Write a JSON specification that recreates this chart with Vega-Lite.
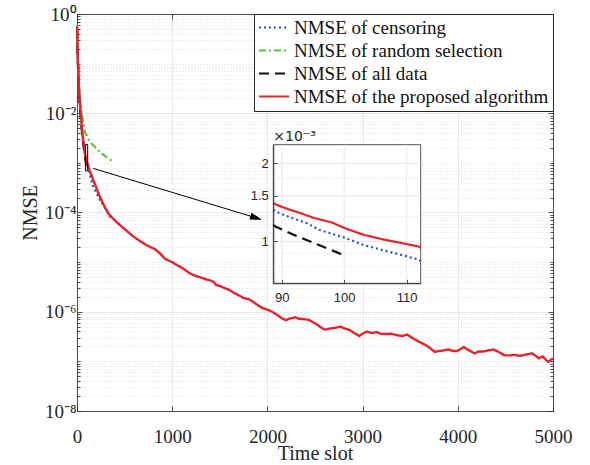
{
  "$schema": "https://vega.github.io/schema/vega-lite/v6.json",
  "width": 476,
  "height": 397,
  "autosize": {"type": "none"},
  "padding": {"left": 77, "top": 14, "right": 37, "bottom": 54},
  "background": "white",
  "config": {
    "view": {"stroke": null},
    "font": "Liberation Serif",
    "axis": {
      "domainColor": "#262626", "tickColor": "#262626", "labelColor": "#262626", "titleColor": "#262626",
      "labelFont": "Liberation Serif", "titleFont": "Liberation Serif", "labelFontSize": 19, "titleFontSize": 20,
      "titleFontWeight": "normal", "labelFlush": false, "labelOverlap": false, "domainWidth": 0.8, "tickWidth": 0.8, "gridWidth": 0.8
    },
    "legend": {
      "orient": "top-right", "offset": 0, "padding": 4, "fillColor": "white", "strokeColor": "#262626",
      "symbolType": "stroke", "symbolSize": 900, "symbolStrokeWidth": 2, "labelFont": "Liberation Serif",
      "labelFontSize": 19, "labelColor": "#111111", "rowPadding": 3, "labelOffset": 4, "labelLimit": 400, "clipHeight": 19
    }
  },
  "datasets": {
    "curves": [
      {"t": 1, "v": 0.56, "series": "NMSE of censoring"},
      {"t": 3, "v": 0.33, "series": "NMSE of censoring"},
      {"t": 6, "v": 0.186, "series": "NMSE of censoring"},
      {"t": 10, "v": 0.102, "series": "NMSE of censoring"},
      {"t": 15, "v": 0.056, "series": "NMSE of censoring"},
      {"t": 20, "v": 0.0325, "series": "NMSE of censoring"},
      {"t": 25, "v": 0.0205, "series": "NMSE of censoring"},
      {"t": 30, "v": 0.0149, "series": "NMSE of censoring"},
      {"t": 35, "v": 0.0116, "series": "NMSE of censoring"},
      {"t": 40, "v": 0.0091, "series": "NMSE of censoring"},
      {"t": 50, "v": 0.0052, "series": "NMSE of censoring"},
      {"t": 60, "v": 0.0033, "series": "NMSE of censoring"},
      {"t": 70, "v": 0.0023, "series": "NMSE of censoring"},
      {"t": 80, "v": 0.00169, "series": "NMSE of censoring"},
      {"t": 88, "v": 0.001325, "series": "NMSE of censoring"},
      {"t": 89, "v": 0.001305, "series": "NMSE of censoring"},
      {"t": 91, "v": 0.001248, "series": "NMSE of censoring"},
      {"t": 94, "v": 0.001177, "series": "NMSE of censoring"},
      {"t": 96, "v": 0.001109, "series": "NMSE of censoring"},
      {"t": 100, "v": 0.001036, "series": "NMSE of censoring"},
      {"t": 103, "v": 0.000971, "series": "NMSE of censoring"},
      {"t": 107, "v": 0.000915, "series": "NMSE of censoring"},
      {"t": 112, "v": 0.000851, "series": "NMSE of censoring"},
      {"t": 113, "v": 0.00084, "series": "NMSE of censoring"},
      {"t": 119, "v": 0.00078, "series": "NMSE of censoring"},
      {"t": 140, "v": 0.000525, "series": "NMSE of censoring"},
      {"t": 171, "v": 0.00033, "series": "NMSE of censoring"},
      {"t": 200, "v": 0.000257, "series": "NMSE of censoring"},
      {"t": 242, "v": 0.000178, "series": "NMSE of censoring"},
      {"t": 280, "v": 0.000138, "series": "NMSE of censoring"},
      {"t": 312, "v": 0.000112, "series": "NMSE of censoring"},
      {"t": 354, "v": 0.000078, "series": "NMSE of censoring"},
      {"t": 1, "v": 0.6, "series": "NMSE of random selection"},
      {"t": 3, "v": 0.35, "series": "NMSE of random selection"},
      {"t": 6, "v": 0.2, "series": "NMSE of random selection"},
      {"t": 10, "v": 0.112, "series": "NMSE of random selection"},
      {"t": 15, "v": 0.063, "series": "NMSE of random selection"},
      {"t": 20, "v": 0.04, "series": "NMSE of random selection"},
      {"t": 25, "v": 0.028, "series": "NMSE of random selection"},
      {"t": 30, "v": 0.021, "series": "NMSE of random selection"},
      {"t": 35, "v": 0.0165, "series": "NMSE of random selection"},
      {"t": 40, "v": 0.0135, "series": "NMSE of random selection"},
      {"t": 49, "v": 0.0103, "series": "NMSE of random selection"},
      {"t": 60, "v": 0.0076, "series": "NMSE of random selection"},
      {"t": 70, "v": 0.006, "series": "NMSE of random selection"},
      {"t": 84, "v": 0.00424, "series": "NMSE of random selection"},
      {"t": 100, "v": 0.00363, "series": "NMSE of random selection"},
      {"t": 115, "v": 0.0031, "series": "NMSE of random selection"},
      {"t": 137, "v": 0.00266, "series": "NMSE of random selection"},
      {"t": 160, "v": 0.00238, "series": "NMSE of random selection"},
      {"t": 190, "v": 0.00209, "series": "NMSE of random selection"},
      {"t": 215, "v": 0.00186, "series": "NMSE of random selection"},
      {"t": 242, "v": 0.00167, "series": "NMSE of random selection"},
      {"t": 270, "v": 0.0015, "series": "NMSE of random selection"},
      {"t": 300, "v": 0.00135, "series": "NMSE of random selection"},
      {"t": 340, "v": 0.00119, "series": "NMSE of random selection"},
      {"t": 381, "v": 0.00105, "series": "NMSE of random selection"},
      {"t": 1, "v": 0.5, "series": "NMSE of all data"},
      {"t": 3, "v": 0.29, "series": "NMSE of all data"},
      {"t": 6, "v": 0.165, "series": "NMSE of all data"},
      {"t": 10, "v": 0.09, "series": "NMSE of all data"},
      {"t": 15, "v": 0.049, "series": "NMSE of all data"},
      {"t": 20, "v": 0.029, "series": "NMSE of all data"},
      {"t": 25, "v": 0.018, "series": "NMSE of all data"},
      {"t": 30, "v": 0.013, "series": "NMSE of all data"},
      {"t": 35, "v": 0.0102, "series": "NMSE of all data"},
      {"t": 40, "v": 0.008, "series": "NMSE of all data"},
      {"t": 50, "v": 0.0046, "series": "NMSE of all data"},
      {"t": 60, "v": 0.0029, "series": "NMSE of all data"},
      {"t": 70, "v": 0.00205, "series": "NMSE of all data"},
      {"t": 80, "v": 0.0015, "series": "NMSE of all data"},
      {"t": 88, "v": 0.00116, "series": "NMSE of all data"},
      {"t": 89, "v": 0.001142, "series": "NMSE of all data"},
      {"t": 92, "v": 0.001059, "series": "NMSE of all data"},
      {"t": 95, "v": 0.00099, "series": "NMSE of all data"},
      {"t": 98, "v": 0.000925, "series": "NMSE of all data"},
      {"t": 100, "v": 0.000884, "series": "NMSE of all data"},
      {"t": 1, "v": 0.55, "series": "NMSE of the proposed algorithm"},
      {"t": 3, "v": 0.35, "series": "NMSE of the proposed algorithm"},
      {"t": 6, "v": 0.2, "series": "NMSE of the proposed algorithm"},
      {"t": 10, "v": 0.11, "series": "NMSE of the proposed algorithm"},
      {"t": 15, "v": 0.06, "series": "NMSE of the proposed algorithm"},
      {"t": 20, "v": 0.035, "series": "NMSE of the proposed algorithm"},
      {"t": 25, "v": 0.022, "series": "NMSE of the proposed algorithm"},
      {"t": 30, "v": 0.016, "series": "NMSE of the proposed algorithm"},
      {"t": 35, "v": 0.0125, "series": "NMSE of the proposed algorithm"},
      {"t": 40, "v": 0.0098, "series": "NMSE of the proposed algorithm"},
      {"t": 50, "v": 0.0056, "series": "NMSE of the proposed algorithm"},
      {"t": 60, "v": 0.00355, "series": "NMSE of the proposed algorithm"},
      {"t": 70, "v": 0.0025, "series": "NMSE of the proposed algorithm"},
      {"t": 80, "v": 0.00182, "series": "NMSE of the proposed algorithm"},
      {"t": 88, "v": 0.00141, "series": "NMSE of the proposed algorithm"},
      {"t": 89, "v": 0.00139, "series": "NMSE of the proposed algorithm"},
      {"t": 91, "v": 0.001333, "series": "NMSE of the proposed algorithm"},
      {"t": 93, "v": 0.001286, "series": "NMSE of the proposed algorithm"},
      {"t": 95, "v": 0.001236, "series": "NMSE of the proposed algorithm"},
      {"t": 98, "v": 0.001184, "series": "NMSE of the proposed algorithm"},
      {"t": 100, "v": 0.001128, "series": "NMSE of the proposed algorithm"},
      {"t": 103, "v": 0.001063, "series": "NMSE of the proposed algorithm"},
      {"t": 106, "v": 0.001021, "series": "NMSE of the proposed algorithm"},
      {"t": 109, "v": 0.000988, "series": "NMSE of the proposed algorithm"},
      {"t": 112, "v": 0.000955, "series": "NMSE of the proposed algorithm"},
      {"t": 113, "v": 0.000945, "series": "NMSE of the proposed algorithm"},
      {"t": 120, "v": 0.00083, "series": "NMSE of the proposed algorithm"},
      {"t": 130, "v": 0.00072, "series": "NMSE of the proposed algorithm"},
      {"t": 150, "v": 0.000575, "series": "NMSE of the proposed algorithm"},
      {"t": 175, "v": 0.000427, "series": "NMSE of the proposed algorithm"},
      {"t": 200, "v": 0.00033, "series": "NMSE of the proposed algorithm"},
      {"t": 224, "v": 0.000243, "series": "NMSE of the proposed algorithm"},
      {"t": 250, "v": 0.00019, "series": "NMSE of the proposed algorithm"},
      {"t": 290, "v": 0.00013, "series": "NMSE of the proposed algorithm"},
      {"t": 329, "v": 0.000096, "series": "NMSE of the proposed algorithm"},
      {"t": 370, "v": 0.000078, "series": "NMSE of the proposed algorithm"},
      {"t": 420, "v": 0.000063, "series": "NMSE of the proposed algorithm"},
      {"t": 480, "v": 0.00005, "series": "NMSE of the proposed algorithm"},
      {"t": 535, "v": 0.0000407, "series": "NMSE of the proposed algorithm"},
      {"t": 590, "v": 0.000033, "series": "NMSE of the proposed algorithm"},
      {"t": 650, "v": 0.0000275, "series": "NMSE of the proposed algorithm"},
      {"t": 730, "v": 0.000022, "series": "NMSE of the proposed algorithm"},
      {"t": 820, "v": 0.0000182, "series": "NMSE of the proposed algorithm"},
      {"t": 880, "v": 0.0000145, "series": "NMSE of the proposed algorithm"},
      {"t": 924, "v": 0.0000117, "series": "NMSE of the proposed algorithm"},
      {"t": 960, "v": 0.0000108, "series": "NMSE of the proposed algorithm"},
      {"t": 1000, "v": 1.0e-5, "series": "NMSE of the proposed algorithm"},
      {"t": 1050, "v": 8.71e-6, "series": "NMSE of the proposed algorithm"},
      {"t": 1100, "v": 7.76e-6, "series": "NMSE of the proposed algorithm"},
      {"t": 1162, "v": 6.38e-6, "series": "NMSE of the proposed algorithm"},
      {"t": 1200, "v": 5.75e-6, "series": "NMSE of the proposed algorithm"},
      {"t": 1250, "v": 5.25e-6, "series": "NMSE of the proposed algorithm"},
      {"t": 1300, "v": 4.9e-6, "series": "NMSE of the proposed algorithm"},
      {"t": 1360, "v": 4.47e-6, "series": "NMSE of the proposed algorithm"},
      {"t": 1400, "v": 4.27e-6, "series": "NMSE of the proposed algorithm"},
      {"t": 1440, "v": 3.98e-6, "series": "NMSE of the proposed algorithm"},
      {"t": 1459, "v": 3.47e-6, "series": "NMSE of the proposed algorithm"},
      {"t": 1500, "v": 3.31e-6, "series": "NMSE of the proposed algorithm"},
      {"t": 1558, "v": 2.95e-6, "series": "NMSE of the proposed algorithm"},
      {"t": 1600, "v": 2.75e-6, "series": "NMSE of the proposed algorithm"},
      {"t": 1650, "v": 2.4e-6, "series": "NMSE of the proposed algorithm"},
      {"t": 1700, "v": 2.14e-6, "series": "NMSE of the proposed algorithm"},
      {"t": 1757, "v": 1.86e-6, "series": "NMSE of the proposed algorithm"},
      {"t": 1800, "v": 1.82e-6, "series": "NMSE of the proposed algorithm"},
      {"t": 1850, "v": 1.58e-6, "series": "NMSE of the proposed algorithm"},
      {"t": 1900, "v": 1.35e-6, "series": "NMSE of the proposed algorithm"},
      {"t": 1955, "v": 1.17e-6, "series": "NMSE of the proposed algorithm"},
      {"t": 2000, "v": 1.1e-6, "series": "NMSE of the proposed algorithm"},
      {"t": 2050, "v": 1.0e-6, "series": "NMSE of the proposed algorithm"},
      {"t": 2100, "v": 8.71e-7, "series": "NMSE of the proposed algorithm"},
      {"t": 2150, "v": 7.41e-7, "series": "NMSE of the proposed algorithm"},
      {"t": 2193, "v": 6.76e-7, "series": "NMSE of the proposed algorithm"},
      {"t": 2230, "v": 7.24e-7, "series": "NMSE of the proposed algorithm"},
      {"t": 2292, "v": 7.76e-7, "series": "NMSE of the proposed algorithm"},
      {"t": 2330, "v": 7.24e-7, "series": "NMSE of the proposed algorithm"},
      {"t": 2380, "v": 7.08e-7, "series": "NMSE of the proposed algorithm"},
      {"t": 2430, "v": 6.92e-7, "series": "NMSE of the proposed algorithm"},
      {"t": 2470, "v": 6.31e-7, "series": "NMSE of the proposed algorithm"},
      {"t": 2530, "v": 5.37e-7, "series": "NMSE of the proposed algorithm"},
      {"t": 2580, "v": 4.57e-7, "series": "NMSE of the proposed algorithm"},
      {"t": 2609, "v": 4.37e-7, "series": "NMSE of the proposed algorithm"},
      {"t": 2650, "v": 4.57e-7, "series": "NMSE of the proposed algorithm"},
      {"t": 2700, "v": 4.68e-7, "series": "NMSE of the proposed algorithm"},
      {"t": 2768, "v": 5.01e-7, "series": "NMSE of the proposed algorithm"},
      {"t": 2800, "v": 4.68e-7, "series": "NMSE of the proposed algorithm"},
      {"t": 2867, "v": 4.27e-7, "series": "NMSE of the proposed algorithm"},
      {"t": 2920, "v": 3.63e-7, "series": "NMSE of the proposed algorithm"},
      {"t": 2966, "v": 3.24e-7, "series": "NMSE of the proposed algorithm"},
      {"t": 3000, "v": 3.63e-7, "series": "NMSE of the proposed algorithm"},
      {"t": 3045, "v": 3.98e-7, "series": "NMSE of the proposed algorithm"},
      {"t": 3100, "v": 3.72e-7, "series": "NMSE of the proposed algorithm"},
      {"t": 3150, "v": 3.89e-7, "series": "NMSE of the proposed algorithm"},
      {"t": 3200, "v": 3.55e-7, "series": "NMSE of the proposed algorithm"},
      {"t": 3263, "v": 3.55e-7, "series": "NMSE of the proposed algorithm"},
      {"t": 3300, "v": 3.63e-7, "series": "NMSE of the proposed algorithm"},
      {"t": 3350, "v": 3.39e-7, "series": "NMSE of the proposed algorithm"},
      {"t": 3420, "v": 3.24e-7, "series": "NMSE of the proposed algorithm"},
      {"t": 3470, "v": 3.47e-7, "series": "NMSE of the proposed algorithm"},
      {"t": 3500, "v": 3.16e-7, "series": "NMSE of the proposed algorithm"},
      {"t": 3550, "v": 2.75e-7, "series": "NMSE of the proposed algorithm"},
      {"t": 3600, "v": 2.45e-7, "series": "NMSE of the proposed algorithm"},
      {"t": 3660, "v": 2.14e-7, "series": "NMSE of the proposed algorithm"},
      {"t": 3700, "v": 1.91e-7, "series": "NMSE of the proposed algorithm"},
      {"t": 3759, "v": 1.55e-7, "series": "NMSE of the proposed algorithm"},
      {"t": 3800, "v": 1.62e-7, "series": "NMSE of the proposed algorithm"},
      {"t": 3850, "v": 1.66e-7, "series": "NMSE of the proposed algorithm"},
      {"t": 3898, "v": 1.74e-7, "series": "NMSE of the proposed algorithm"},
      {"t": 3950, "v": 1.62e-7, "series": "NMSE of the proposed algorithm"},
      {"t": 3997, "v": 1.62e-7, "series": "NMSE of the proposed algorithm"},
      {"t": 4064, "v": 1.95e-7, "series": "NMSE of the proposed algorithm"},
      {"t": 4100, "v": 1.74e-7, "series": "NMSE of the proposed algorithm"},
      {"t": 4175, "v": 1.45e-7, "series": "NMSE of the proposed algorithm"},
      {"t": 4220, "v": 1.58e-7, "series": "NMSE of the proposed algorithm"},
      {"t": 4270, "v": 1.58e-7, "series": "NMSE of the proposed algorithm"},
      {"t": 4320, "v": 1.66e-7, "series": "NMSE of the proposed algorithm"},
      {"t": 4374, "v": 1.74e-7, "series": "NMSE of the proposed algorithm"},
      {"t": 4420, "v": 1.58e-7, "series": "NMSE of the proposed algorithm"},
      {"t": 4493, "v": 1.32e-7, "series": "NMSE of the proposed algorithm"},
      {"t": 4550, "v": 1.32e-7, "series": "NMSE of the proposed algorithm"},
      {"t": 4600, "v": 1.35e-7, "series": "NMSE of the proposed algorithm"},
      {"t": 4650, "v": 1.29e-7, "series": "NMSE of the proposed algorithm"},
      {"t": 4700, "v": 1.35e-7, "series": "NMSE of the proposed algorithm"},
      {"t": 4778, "v": 1.45e-7, "series": "NMSE of the proposed algorithm"},
      {"t": 4820, "v": 1.29e-7, "series": "NMSE of the proposed algorithm"},
      {"t": 4850, "v": 1.15e-7, "series": "NMSE of the proposed algorithm"},
      {"t": 4890, "v": 1.26e-7, "series": "NMSE of the proposed algorithm"},
      {"t": 4949, "v": 9.77e-8, "series": "NMSE of the proposed algorithm"},
      {"t": 5000, "v": 1.15e-7, "series": "NMSE of the proposed algorithm"}
    ],
    "insetVgrid": [{"g": 90}, {"g": 100}, {"g": 110}],
    "insetHgrid": [{"g": 0.001}, {"g": 0.0015}, {"g": 0.002}],
    "insetMinor": [{"g": 0.0008}, {"g": 0.0009}, {"g": 0.00125}, {"g": 0.00175}]
  },
  "layer": [
    {
      "layer": [
        {
          "data": {"name": "curves"},
          "transform": [{"filter": "datum.series != 'NMSE of the proposed algorithm'"}],
          "mark": {"type": "line", "strokeWidth": 2.2},
          "encoding": {
            "x": {"field": "t", "type": "quantitative", "scale": {"domain": [0, 5000], "nice": false},
              "axis": {"orient": "bottom", "title": "Time slot", "values": [0, 1000, 2000, 3000, 4000, 5000], "format": "d",
                "grid": true, "gridColor": "#e3e3e3", "tickSize": -5, "labelPadding": 21, "titlePadding": -3}},
            "y": {"field": "v", "type": "quantitative", "scale": {"type": "log", "domain": [1e-8, 1], "nice": false},
              "axis": {"orient": "left", "title": "NMSE", "titlePadding": 4, "labelPadding": 6,
                "values": [1e-8,2e-8,3e-8,4e-8,5e-8,6e-8,7e-8,8e-8,9e-8,1e-7,2e-7,3e-7,4e-7,5e-7,6e-7,7e-7,8e-7,9e-7,1e-6,2e-6,3e-6,4e-6,5e-6,6e-6,7e-6,8e-6,9e-6,1e-5,2e-5,3e-5,4e-5,5e-5,6e-5,7e-5,8e-5,9e-5,1e-4,2e-4,3e-4,4e-4,5e-4,6e-4,7e-4,8e-4,9e-4,1e-3,2e-3,3e-3,4e-3,5e-3,6e-3,7e-3,8e-3,9e-3,1e-2,2e-2,3e-2,4e-2,5e-2,6e-2,7e-2,8e-2,9e-2,1e-1,2e-1,3e-1,4e-1,5e-1,6e-1,7e-1,8e-1,9e-1,1],
                "labelExpr": "abs(log(datum.value)/LN10 - round(log(datum.value)/LN10)) < 0.000001 && round(log(datum.value)/LN10) % 2 == 0 ? '10' + ['⁰','⁻²','⁻⁴','⁻⁶','⁻⁸'][-round(log(datum.value)/LN10)/2] : ''",
                "grid": true,
                "gridDash": {"condition": {"test": "abs(log(datum.value)/LN10 - round(log(datum.value)/LN10)) < 0.000001 && round(log(datum.value)/LN10) % 2 == 0", "value": []}, "value": [1, 2]},
                "gridColor": {"condition": {"test": "abs(log(datum.value)/LN10 - round(log(datum.value)/LN10)) < 0.000001 && round(log(datum.value)/LN10) % 2 == 0", "value": "#e3e3e3"}, "value": "#d6d6d6"},
                "tickSize": {"condition": {"test": "abs(log(datum.value)/LN10 - round(log(datum.value)/LN10)) < 0.000001 && round(log(datum.value)/LN10) % 2 == 0", "value": -5}, "value": -3}}},
            "color": {"field": "series", "type": "nominal",
              "scale": {"domain": ["NMSE of censoring", "NMSE of random selection", "NMSE of all data", "NMSE of the proposed algorithm"],
                "range": ["#2f4fbf", "#62bf3a", "#111111", "#e8222b"]},
              "legend": {"title": null}},
            "strokeDash": {"field": "series", "type": "nominal",
              "scale": {"domain": ["NMSE of censoring", "NMSE of random selection", "NMSE of all data", "NMSE of the proposed algorithm"],
                "range": [[2, 3], [7, 3, 2, 3], [10, 6], [1, 0]]},
              "legend": {"title": null}}
          }
        },
        {
          "data": {"name": "curves"},
          "transform": [{"filter": "datum.series == 'NMSE of the proposed algorithm'"}],
          "mark": {"type": "line", "strokeWidth": 2.4},
          "encoding": {
            "x": {"field": "t", "type": "quantitative"},
            "y": {"field": "v", "type": "quantitative"},
            "color": {"field": "series", "type": "nominal"},
            "strokeDash": {"field": "series", "type": "nominal"}
          }
        },
        {
          "data": {"values": [{}]},
          "mark": {"type": "rect", "fillOpacity": 0, "stroke": "black", "strokeWidth": 1},
          "encoding": {
            "x": {"datum": 88.66}, "x2": {"datum": 112.24},
            "y": {"datum": 0.00069}, "y2": {"datum": 0.00236}
          }
        },
        {
          "data": {"values": [{}]},
          "mark": {"type": "rule", "color": "black", "strokeWidth": 1},
          "encoding": {
            "x": {"datum": 171}, "y": {"datum": 0.000774},
            "x2": {"datum": 1883}, "y2": {"datum": 0.0000778}
          }
        },
        {
          "data": {"values": [{}]},
          "mark": {"type": "point", "shape": "M-1,-0.6L1,0L-1,0.6Z", "filled": true, "color": "black", "opacity": 1, "size": 144, "angle": 16.9},
          "encoding": {
            "x": {"datum": 1883}, "y": {"datum": 0.0000778}
          }
        }
      ]
    },
    {
      "data": {"values": [{}]},
      "mark": {"type": "point", "opacity": 0},
      "encoding": {
        "x": {"datum": 0, "type": "quantitative", "scale": {"domain": [0, 5000], "nice": false},
          "axis": {"orient": "top", "values": [0, 1000, 2000, 3000, 4000, 5000], "labels": false, "grid": false, "title": null, "tickSize": -5}},
        "y": {"datum": 1, "type": "quantitative", "scale": {"type": "log", "domain": [1e-8, 1], "nice": false},
          "axis": {"orient": "right", "labels": false, "grid": false, "title": null,
            "values": [1e-8,2e-8,3e-8,4e-8,5e-8,6e-8,7e-8,8e-8,9e-8,1e-7,2e-7,3e-7,4e-7,5e-7,6e-7,7e-7,8e-7,9e-7,1e-6,2e-6,3e-6,4e-6,5e-6,6e-6,7e-6,8e-6,9e-6,1e-5,2e-5,3e-5,4e-5,5e-5,6e-5,7e-5,8e-5,9e-5,1e-4,2e-4,3e-4,4e-4,5e-4,6e-4,7e-4,8e-4,9e-4,1e-3,2e-3,3e-3,4e-3,5e-3,6e-3,7e-3,8e-3,9e-3,1e-2,2e-2,3e-2,4e-2,5e-2,6e-2,7e-2,8e-2,9e-2,1e-1,2e-1,3e-1,4e-1,5e-1,6e-1,7e-1,8e-1,9e-1,1],
            "tickSize": {"condition": {"test": "abs(log(datum.value)/LN10 - round(log(datum.value)/LN10)) < 0.000001 && round(log(datum.value)/LN10) % 2 == 0", "value": -5}, "value": -3}}}
      }
    },
    {
      "layer": [
        {
          "data": {"values": [{}]},
          "mark": {"type": "rect", "fill": "white", "stroke": "#262626", "strokeWidth": 0.8},
          "encoding": {
            "x": {"datum": 88.66, "type": "quantitative",
              "scale": {"domain": [88.66, 112.24], "range": [196.3, 343.7], "clamp": true, "nice": false, "zero": false},
              "axis": {"orient": "bottom", "offset": -127.7, "values": [90, 100, 110], "format": "d", "grid": false, "title": null,
                "tickSize": -4, "labelFont": "Liberation Sans", "labelFontSize": 13, "labelPadding": 12, "zindex": 1}},
            "x2": {"datum": 112.24},
            "y": {"datum": 0.00069, "type": "quantitative",
              "scale": {"type": "log", "domain": [0.00069, 0.00236], "range": [269.3, 130.7], "nice": false},
              "axis": {"orient": "left", "offset": -196.3, "values": [0.001, 0.0015, 0.002], "grid": false, "title": null,
                "labelExpr": "format(datum.value*1000, '.2~f')",
                "tickSize": -4, "labelFont": "Liberation Sans", "labelFontSize": 13, "labelPadding": 9, "zindex": 1}},
            "y2": {"datum": 0.00236}
          }
        },
        {
          "data": {"name": "insetVgrid"},
          "mark": {"type": "rule", "color": "#e3e3e3", "strokeWidth": 0.8},
          "encoding": {
            "x": {"field": "g", "type": "quantitative"},
            "y": {"datum": 0.00069}, "y2": {"datum": 0.00236}
          }
        },
        {
          "data": {"name": "insetHgrid"},
          "mark": {"type": "rule", "color": "#e3e3e3", "strokeWidth": 0.8},
          "encoding": {
            "y": {"field": "g", "type": "quantitative"},
            "x": {"datum": 88.66}, "x2": {"datum": 112.24}
          }
        },
        {
          "data": {"name": "insetMinor"},
          "mark": {"type": "rule", "color": "#d6d6d6", "strokeWidth": 0.8, "strokeDash": [1, 2]},
          "encoding": {
            "y": {"field": "g", "type": "quantitative"},
            "x": {"datum": 88.66}, "x2": {"datum": 112.24}
          }
        },
        {
          "data": {"name": "curves"},
          "transform": [{"filter": "datum.t >= 88 && datum.t <= 113 && datum.series != 'NMSE of random selection'"}],
          "mark": {"type": "line", "strokeWidth": 2.2},
          "encoding": {
            "x": {"field": "t", "type": "quantitative"},
            "y": {"field": "v", "type": "quantitative"},
            "color": {"field": "series", "type": "nominal", "legend": null},
            "strokeDash": {"field": "series", "type": "nominal", "legend": null}
          }
        },
        {
          "data": {"values": [{}]},
          "mark": {"type": "text", "align": "left", "baseline": "bottom", "dy": -1, "font": "DejaVu Sans", "fontSize": 14, "color": "#262626", "text": "×10⁻³"},
          "encoding": {
            "x": {"datum": 88.66}, "y": {"datum": 0.00236}
          }
        }
      ]
    }
  ],
  "resolve": {"scale": {"x": "independent", "y": "independent"}, "axis": {"x": "independent", "y": "independent"}}
}
